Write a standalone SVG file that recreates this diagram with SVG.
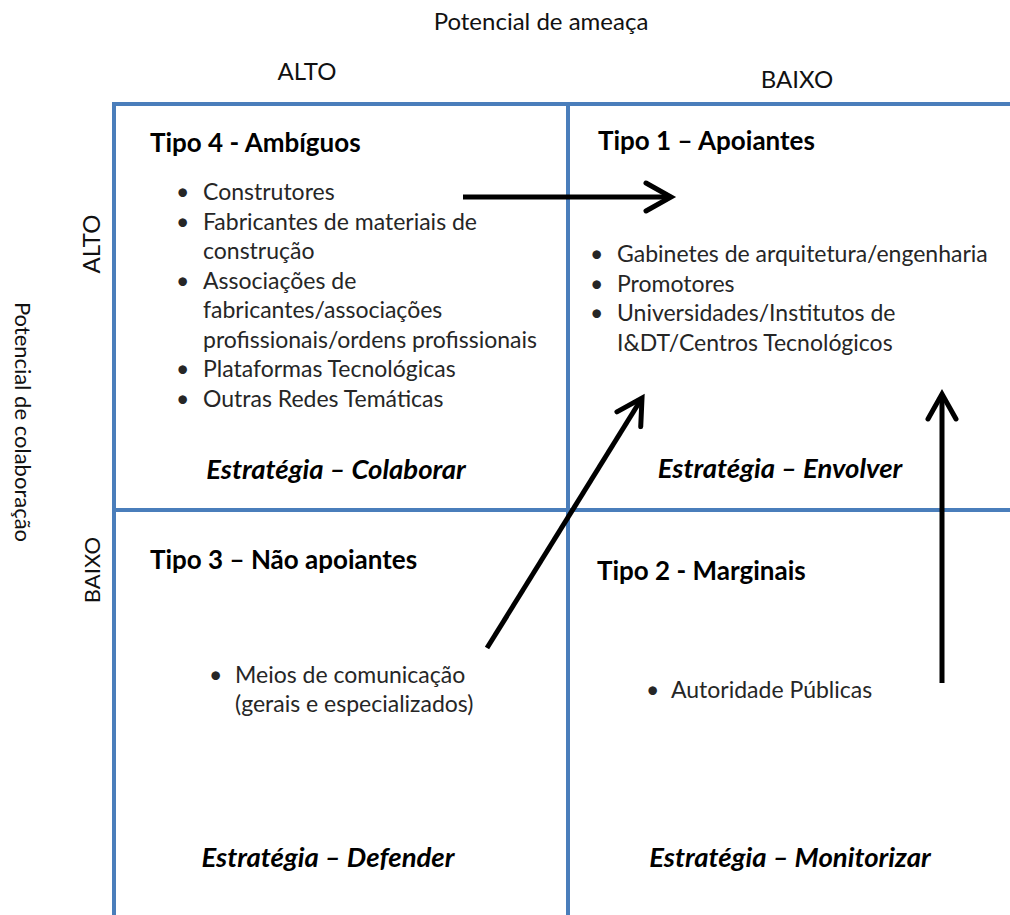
<svg xmlns="http://www.w3.org/2000/svg" width="1010" height="915" viewBox="0 0 1010 915">
<style>
  text { font-family: Lato, "Liberation Sans", sans-serif; }
  .axis { font-size: 24px; fill: #111; }
  .vaxis { font-size: 22px; fill: #111; }
  .title { font-size: 26px; font-weight: bold; fill: #000; }
  .item { font-size: 23px; fill: #262626; }
  .strat { font-size: 27.5px; font-weight: bold; font-style: italic; fill: #000; }
  .grid { stroke: #4a7ebb; stroke-width: 4; fill: none; }
  .arrow { stroke: #000; stroke-width: 5; fill: none; marker-end: url(#chev); }
</style>
<defs>
  <marker id="chev" markerUnits="userSpaceOnUse" orient="auto" refX="0" refY="0" markerWidth="40" markerHeight="40" viewBox="-30 -20 40 40" overflow="visible">
    <path d="M-25,-14 L0,0 L-25,14" fill="none" stroke="#000" stroke-width="5" stroke-linecap="round"/>
  </marker>
</defs>
<rect width="1010" height="915" fill="#fff"/>

<g id="axes">
  <text class="axis" x="541" y="30" text-anchor="middle">Potencial de ameaça</text>
  <text class="axis" x="307" y="80" text-anchor="middle">ALTO</text>
  <text class="axis" x="797" y="88" text-anchor="middle">BAIXO</text>
  <text class="axis" transform="translate(100,244) rotate(-90)" text-anchor="middle">ALTO</text>
  <text class="vaxis" transform="translate(100,570) rotate(-90)" text-anchor="middle">BAIXO</text>
  <text class="vaxis" transform="translate(15,422) rotate(90)" text-anchor="middle">Potencial de colaboração</text>
</g>

<g id="grid">
  <line class="grid" x1="112" y1="104" x2="1010" y2="104"/>
  <line class="grid" x1="114" y1="102" x2="114" y2="915"/>
  <line class="grid" x1="568" y1="102" x2="568" y2="915"/>
  <line class="grid" x1="114" y1="510" x2="1010" y2="510"/>
</g>

<g id="tipo4">
  <text class="title" x="150" y="152">Tipo 4 - Ambíguos</text>
  <g class="item">
    <text x="176" y="200">•</text><text x="203" y="200">Construtores</text>
    <text x="176" y="229.5">•</text><text x="203" y="229.5">Fabricantes de materiais de</text>
    <text x="203" y="259">construção</text>
    <text x="176" y="288.5">•</text><text x="203" y="288.5">Associações de</text>
    <text x="203" y="318">fabricantes/associações</text>
    <text x="203" y="347.5">profissionais/ordens profissionais</text>
    <text x="176" y="377">•</text><text x="203" y="377">Plataformas Tecnológicas</text>
    <text x="176" y="406.5">•</text><text x="203" y="406.5">Outras Redes Temáticas</text>
  </g>
  <text class="strat" x="336" y="479" text-anchor="middle">Estratégia – Colaborar</text>
</g>

<g id="tipo1">
  <text class="title" x="598" y="150">Tipo 1 – Apoiantes</text>
  <g class="item">
    <text x="590" y="262">•</text><text x="617" y="262">Gabinetes de arquitetura/engenharia</text>
    <text x="590" y="291.5">•</text><text x="617" y="291.5">Promotores</text>
    <text x="590" y="321">•</text><text x="617" y="321">Universidades/Institutos de</text>
    <text x="617" y="350.5">I&amp;DT/Centros Tecnológicos</text>
  </g>
  <text class="strat" x="780" y="478" text-anchor="middle">Estratégia – Envolver</text>
</g>

<g id="tipo3">
  <text class="title" x="150" y="569">Tipo 3 – Não apoiantes</text>
  <g class="item">
    <text x="209" y="683">•</text><text x="235" y="683">Meios de comunicação</text>
    <text x="235" y="712">(gerais e especializados)</text>
  </g>
  <text class="strat" x="328" y="867" text-anchor="middle">Estratégia – Defender</text>
</g>

<g id="tipo2">
  <text class="title" x="597" y="580">Tipo 2 - Marginais</text>
  <g class="item">
    <text x="646" y="698">•</text><text x="671" y="698">Autoridade Públicas</text>
  </g>
  <text class="strat" x="790" y="867" text-anchor="middle">Estratégia – Monitorizar</text>
</g>

<g id="connectors">
  <line class="arrow" x1="463" y1="197" x2="671" y2="197"/>
  <line class="arrow" x1="487" y1="648" x2="642" y2="398"/>
  <line class="arrow" x1="942" y1="683" x2="942" y2="394"/>
</g>
</svg>
